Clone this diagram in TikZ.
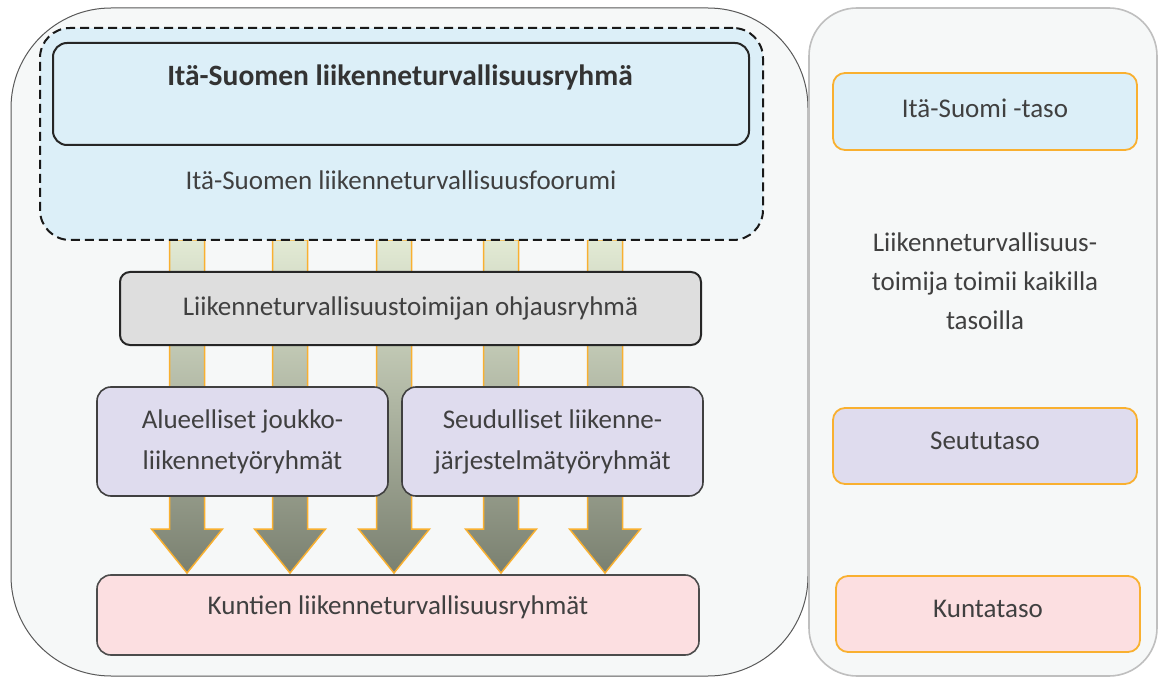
\documentclass[tikz,border=0pt]{standalone}
\usepackage{fontspec}
\setmainfont{Carlito}
\usetikzlibrary{shadings}
\definecolor{panelbg}{HTML}{F6F8F8}
\definecolor{bluefill}{HTML}{DCEFF8}
\definecolor{grayfill}{HTML}{DEDEDE}
\definecolor{purplefill}{HTML}{DFDCEE}
\definecolor{pinkfill}{HTML}{FCDFE1}
\definecolor{orangeline}{HTML}{F9B030}
\definecolor{txt}{HTML}{404040}
\definecolor{arrtop}{HTML}{E2EAD4}
\definecolor{arrbot}{HTML}{7A8070}
\tikzset{
  txtstyle/.style={text=txt, font=\fontsize{27}{39}\selectfont, align=center, inner sep=0pt},
  levelbox/.style={draw=orangeline, line width=1.8pt, rounded corners=12pt, inner sep=0pt},
  mainbox/.style={draw=black!85, line width=1.6pt, rounded corners=14pt, inner sep=0pt},
  bigarrow/.style={draw=orangeline, line width=1.5pt, top color=arrtop, bottom color=arrbot, line join=miter},
}
\begin{document}
\begin{tikzpicture}[x=1pt,y=-1pt]
\useasboundingbox (0,0) rectangle (1160,679);
% outer panels
\draw[fill=panelbg, draw=black!65, line width=1pt, rounded corners=100pt] (11,8) rectangle (808,676);
\draw[fill=panelbg, draw=black!25, line width=1.6pt, rounded corners=48pt] (809,8) rectangle (1157,676);
% arrows
\foreach \c in {187,290,394,501,605}{
  \draw[bigarrow] (\c-17.5,240) -- (\c-17.5,529) -- (\c-35.5,529) -- (\c,573) -- (\c+35.5,529) -- (\c+17.5,529) -- (\c+17.5,240) -- cycle;
}
% forum dashed box
\node[draw=black!90, fill=bluefill, dashed, dash pattern=on 9pt off 5pt, line width=2pt, rounded corners=30pt, minimum width=723pt, minimum height=212pt, inner sep=0pt] (forum) at (401.5,134) {};
\node[mainbox, fill=bluefill, line width=2pt, minimum width=696pt, minimum height=102pt] (group) at (401,94) {};
\node[txtstyle, font=\fontsize{29.5}{36}\selectfont\bfseries, text=black!80] (grouptxt) at (400,77) {Itä-Suomen liikenneturvallisuusryhmä};
\node[txtstyle] (forumtxt) at (401,180) {Itä-Suomen liikenneturvallisuusfoorumi};
% steering group
\node[mainbox, fill=grayfill, line width=2pt, rounded corners=10pt, minimum width=581pt, minimum height=73pt, txtstyle, text=txt] (steer) at (410.5,308.5) {Liikenneturvallisuustoimijan ohjausryhmä};
% working groups
\node[mainbox, fill=purplefill, draw=black!75, line width=1.6pt, minimum width=291pt, minimum height=109pt, txtstyle, text=txt, font=\fontsize{27}{41}\selectfont] (left) at (242.5,441.5) {Alueelliset joukko-\\liikennetyöryhmät};
\node[mainbox, fill=purplefill, draw=black!75, line width=1.6pt, minimum width=301pt, minimum height=109pt, txtstyle, text=txt, font=\fontsize{27}{41}\selectfont] (right) at (552.5,441.5) {Seudulliset liikenne-\\järjestelmätyöryhmät};
% municipal
\node[mainbox, fill=pinkfill, draw=black!70, line width=1.6pt, minimum width=602pt, minimum height=80pt, inner sep=0pt] (kunta) at (398,615) {};
\node[txtstyle] (kuntatxt) at (398,607) {Kuntien liikenneturvallisuusryhmät};
% right panel
\node[levelbox, fill=bluefill, minimum width=304pt, minimum height=77pt] (l1) at (985,111.5) {};
\node[txtstyle] (l1txt) at (985,108) {Itä-Suomi -taso};
\node[txtstyle] (note) at (985,281) {Liikenneturvallisuus-\\toimija toimii kaikilla\\tasoilla};
\node[levelbox, fill=purplefill, minimum width=304pt, minimum height=76pt] (l2) at (985,446) {};
\node[txtstyle] (l2txt) at (985,441) {Seututaso};
\node[levelbox, fill=pinkfill, minimum width=304pt, minimum height=76pt] (l3) at (988,614) {};
\node[txtstyle] (l3txt) at (988,609) {Kuntataso};
\end{tikzpicture}
\end{document}
